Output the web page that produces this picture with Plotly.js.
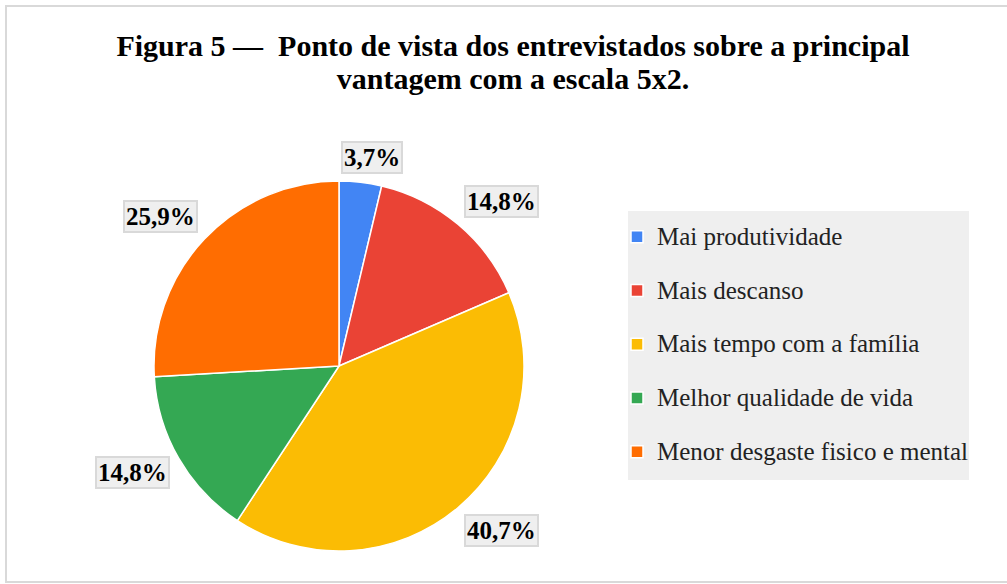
<!DOCTYPE html>
<html>
<head>
<meta charset="utf-8">
<script src="https://cdn.plot.ly/plotly-3.0.1.min.js"></script>
<style>html,body{margin:0;padding:0;background:#fff;}#chart{width:1007px;height:584px;}</style>
</head>
<body>
<div id="chart"></div>
<script>
// ---- data ----
const categories = ["Mai produtividade", "Mais descanso", "Mais tempo com a família", "Melhor qualidade de vida", "Menor desgaste fisico e mental"];
const counts = [1, 4, 11, 4, 7];
const percentLabels = ["3,7%", "14,8%", "40,7%", "14,8%", "25,9%"];
const colors = ["#4285F4", "#EA4335", "#FBBC04", "#34A853", "#FF6D01"];

// ---- layout helpers (style only) ----
const W = 1007, H = 584;
const domX = [0.1529, 0.5204], domY = [0.0565, 0.6901];
const labelNudgeDeg = [2.3, 4.6, -4.6, 2.8, -3.4];
const labelDistPx = [211, 231, 231, 232, 233];

const total = counts.reduce((a, b) => a + b, 0);
const cx = (domX[0] + domX[1]) / 2 * W;
const cy = (1 - (domY[0] + domY[1]) / 2) * H;

const annotations = [];
let cum = 0;
counts.forEach((v, i) => {
  const mid = (cum + v / 2) / total * 360 + labelNudgeDeg[i];
  cum += v;
  const a = mid * Math.PI / 180;
  const px = cx + labelDistPx[i] * Math.sin(a);
  const py = cy - labelDistPx[i] * Math.cos(a);
  annotations.push({
    xref: 'paper', yref: 'paper', x: px / W, y: 1 - py / H,
    xanchor: 'center', yanchor: 'middle', showarrow: false,
    text: '<b>' + percentLabels[i] + '</b>',
    font: {family: 'Liberation Serif, Times New Roman, serif', size: 25, color: '#000'},
    bgcolor: '#efefef', bordercolor: '#d9d9d9', borderwidth: 2, borderpad: 1
  });
});

const trace = {
  type: 'pie',
  labels: categories.map(c => '<span style="font-size:25px;baseline-shift:7px">' + c + '</span>'),
  values: counts,
  sort: false,
  direction: 'clockwise',
  rotation: 0,
  textinfo: 'none',
  hoverinfo: 'label+percent',
  marker: {colors: colors, line: {color: '#ffffff', width: 1.5}},
  domain: {x: domX, y: domY}
};

const layout = {
  width: W, height: H,
  margin: {l: 0, r: 0, t: 0, b: 0},
  paper_bgcolor: '#ffffff',
  title: {
    text: '<b><span style="font-size:30px">Figura 5 —&nbsp; Ponto de vista dos entrevistados sobre a principal</span></b><br><b><span style="font-size:30px">vantagem com a escala 5x2.</span></b>',
    font: {family: 'Liberation Serif, Times New Roman, serif', size: 25.4, color: '#000'},
    x: 0.5094, xanchor: 'center', xref: 'paper',
    y: 0.904, yanchor: 'top', yref: 'container'
  },
  showlegend: true,
  legend: {
    x: 617 / W, y: 1 - 205 / H, xanchor: 'left', yanchor: 'top',
    bgcolor: 'rgba(0,0,0,0)',
    font: {family: 'Liberation Serif, Times New Roman, serif', size: 39, color: '#222'},
    traceorder: 'normal'
  },
  shapes: [
    {type: 'rect', xref: 'paper', yref: 'paper', layer: 'below',
     x0: 628 / W, x1: 969 / W, y0: 1 - 480 / H, y1: 1 - 211 / H,
     fillcolor: '#efefef', line: {width: 0}},
    {type: 'rect', xref: 'paper', yref: 'paper', layer: 'below',
     x0: 6 / W, x1: 1012 / W, y0: 1 - 582 / H, y1: 1 - 6 / H,
     fillcolor: 'rgba(0,0,0,0)', line: {color: '#d9d9d9', width: 2}}
  ],
  annotations: annotations
};

Plotly.newPlot('chart', [trace], layout, {displayModeBar: false, staticPlot: true});
</script>
</body>
</html>
